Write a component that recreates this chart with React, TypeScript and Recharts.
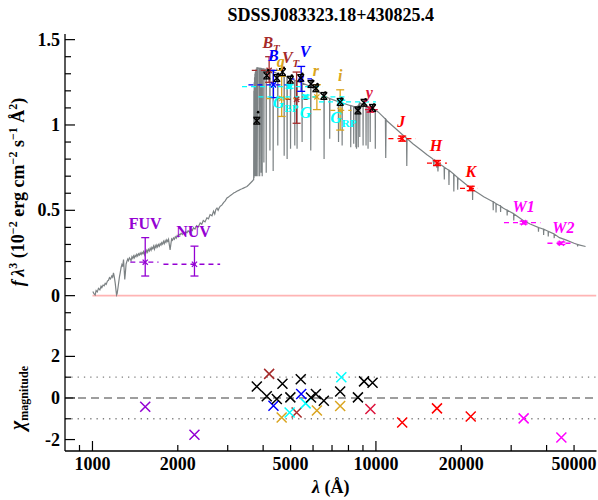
import React from 'react';
import { ComposedChart, Line, Scatter, XAxis, YAxis, ErrorBar, ReferenceLine } from 'recharts';

const FONT = '"Liberation Serif", "Times New Roman", Times, serif';
const W = 598;
const H = 500;
const TOP = 34;
const SPLIT = 346;
const BOTTOM = 451;

// ---------- data ----------
const spectrumPoints: [number, number][] = [
  [1003,0.024],[1012,0.012],[1022,0.004],[1030,0.03],[1040,0.022],[1050,0.043],[1062,0.034],[1072,0.055],[1079,0.047],[1090,0.062],
  [1100,0.058],[1109,0.072],[1118,0.066],[1129,0.085],[1139,0.09],[1148,0.105],[1158,0.098],[1170,0.115],[1178,0.108],[1186,0.133],
  [1194,0.11],[1203,0.073],[1210,0.035],[1216,0.004],[1222,0.012],[1230,0.045],[1238,0.08],[1245,0.11],[1253,0.135],[1262,0.165],
  [1270,0.182],[1278,0.17],[1287,0.212],[1294,0.15],[1300,0.095],[1306,0.13],[1314,0.185],[1322,0.2],[1332,0.214],[1340,0.205],
  [1350,0.222],[1359,0.215],[1368,0.205],[1378,0.228],[1388,0.218],[1396,0.232],[1405,0.222],[1414,0.236],[1424,0.228],[1434,0.242],
  [1444,0.232],[1455,0.245],[1465,0.238],[1474,0.25],[1485,0.241],[1495,0.253],[1505,0.246],[1514,0.258],[1525,0.24],[1535,0.26],
  [1545,0.252],[1555,0.266],[1565,0.255],[1575,0.272],[1588,0.262],[1598,0.278],[1610,0.266],[1620,0.282],[1632,0.274],[1642,0.29],
  [1655,0.272],[1665,0.293],[1676,0.283],[1687,0.297],[1698,0.286],[1710,0.3],[1722,0.29],[1733,0.305],[1745,0.297],[1755,0.31],
  [1768,0.302],[1780,0.318],[1792,0.305],[1805,0.322],[1817,0.312],[1829,0.327],[1842,0.318],[1855,0.33],[1866,0.3],[1879,0.268],
  [1890,0.3],[1902,0.332],[1916,0.325],[1930,0.338],[1945,0.33],[1960,0.345],[1975,0.337],[1990,0.352],[2005,0.345],[2020,0.36],
  [2037,0.356],[2055,0.366],[2075,0.358],[2095,0.37],[2115,0.362],[2135,0.375],[2155,0.368],[2175,0.38],[2200,0.372],[2225,0.388],
  [2250,0.382],[2272,0.398],[2300,0.39],[2330,0.41],[2360,0.402],[2399,0.426],[2430,0.418],[2460,0.44],[2495,0.432],[2533,0.456],
  [2565,0.45],[2600,0.475],[2640,0.468],[2674,0.495],[2700,0.478],[2725,0.505],[2749,0.513],[2775,0.5],[2800,0.515],[2824,0.524],
  [2860,0.53],[2900,0.545],[2940,0.555],[2982,0.572],[3020,0.578],[3060,0.586],[3100,0.592],[3148,0.601],[3190,0.606],[3230,0.612],
  [3280,0.617],[3323,0.622],[3370,0.626],[3410,0.63],[3460,0.635],[3508,0.64],[3560,0.65],[3610,0.66],[3660,0.67],[3700,0.68],
  [3704,0.68],[3710,1.2],[3714,0.69],[3720,1.25],[3724,0.7],[3731,1.28],[3735,0.7],[3742,1.3],[3746,0.7],[3754,1.31],
  [3758,0.7],[3766,1.32],[3771,0.71],[3780,1.33],[3790,0.7],[3800,1.335],[3830,1.335],[3835,0.7],[3840,1.335],[3884,1.333],
  [3889,0.7],[3894,1.333],[3929,1.332],[3934,0.72],[3939,1.332],[3964,1.33],[3970,0.7],[3976,1.33],[4020,1.328],[4025,0.78],
  [4030,1.328],[4096,1.325],[4102,0.72],[4108,1.325],[4220,1.32],[4227,0.85],[4234,1.32],[4333,1.312],[4340,0.73],[4347,1.312],
  [4400,1.308],[4500,1.3],[4506,0.88],[4512,1.3],[4740,1.288],[4746,0.82],[4752,1.288],[4853,1.282],[4861,0.8],[4869,1.281],
  [4990,1.272],[4998,0.86],[5006,1.271],[5165,1.262],[5173,0.88],[5181,1.262],[5262,1.257],[5270,0.86],[5278,1.256],[5480,1.246],
  [5490,0.9],[5500,1.245],[5800,1.23],[5880,1.225],[5890,0.85],[5900,1.224],[6000,1.215],[6300,1.192],[6553,1.172],[6563,0.8],
  [6573,1.171],[6860,1.155],[6870,0.92],[6880,1.155],[7000,1.15],[7370,1.136],[7380,0.9],[7390,1.136],[7500,1.132],[7590,1.129],
  [7600,0.88],[7610,1.129],[8000,1.117],[8140,1.113],[8150,0.87],[8160,1.113],[8340,1.108],[8350,0.89],[8360,1.108],[8488,1.106],
  [8498,0.87],[8508,1.106],[8532,1.107],[8542,0.86],[8552,1.107],[8652,1.112],[8662,0.87],[8672,1.113],[8760,1.13],[8770,0.93],
  [8780,1.13],[9000,1.12],[9010,0.88],[9020,1.12],[9220,1.112],[9230,0.88],[9240,1.111],[9370,1.105],[9380,0.86],[9390,1.105],
  [9536,1.1],[9546,0.9],[9556,1.1],[9940,1.087],[9950,0.86],[9960,1.087],[10200,1.075],[10500,1.055],[10800,1.035],[10830,0.806],
  [10860,1.032],[11000,1.02],[12000,0.965],[12820,0.922],[12850,0.76],[12880,0.92],[13500,0.89],[14500,0.85],[15140,0.825],[15900,0.8],
  [16000,0.765],[16100,0.796],[16300,0.789],[16400,0.75],[16500,0.78],[16550,0.727],[16600,0.776],[17300,0.757],[17400,0.753],[17430,0.68],
  [17460,0.752],[18070,0.735],[18100,0.649],[18130,0.734],[18800,0.712],[18830,0.61],[18860,0.711],[19400,0.692],[19430,0.62],[19460,0.691],
  [20500,0.66],[21500,0.632],[21900,0.622],[21930,0.56],[21960,0.621],[23000,0.6],[24000,0.58],[25900,0.55],[25930,0.5],[25960,0.55],
  [26500,0.54],[26530,0.487],[26560,0.539],[27500,0.525],[27530,0.49],[27560,0.524],[28000,0.515],[29000,0.5],[29040,0.47],[29080,0.5],
  [30600,0.48],[30640,0.44],[30680,0.479],[33100,0.44],[35000,0.42],[37400,0.4],[37450,0.375],[37500,0.399],[39000,0.39],[39050,0.356],
  [39100,0.389],[40500,0.377],[40550,0.346],[40600,0.376],[42500,0.362],[42550,0.337],[42600,0.361],[44400,0.34],[47000,0.325],[50000,0.307],
  [51400,0.3],[51450,0.288],[51500,0.299],[54900,0.288],
];

const zeroLineWave = [1000, 60000];

const bandNames = ['FUV','NUV','B_T','V_T','B','V','g','r','i','y','G_BP','G','G_RP','J','H','K','W1','W2'];
const bandWave = [1535,2290,4200,5250,4350,5450,4650,6190,7480,9560,4960,5650,7550,12380,16420,21600,33200,45100];
const bandFlux = [0.196,0.184,1.32,1.15,1.235,1.27,1.155,1.164,1.085,1.09,1.225,1.165,1.135,0.92,0.777,0.628,0.428,0.307];
const bandFluxLow = [0.115,0.115,1.25,1.01,1.16,1.197,1.05,1.09,0.97,1.075,1.215,1.155,1.125,0.905,0.762,0.615,0.42,0.3];
const bandFluxHigh = [0.34,0.29,1.4,1.31,1.32,1.343,1.285,1.236,1.206,1.105,1.235,1.175,1.145,0.935,0.792,0.641,0.436,0.314];
const bandWaveLow = [1360,1780,3650,4800,3550,4950,4100,5550,6900,9150,3370,3850,6300,11070,15140,19800,28300,40300];
const bandWaveHigh = [1710,2820,4700,5750,5000,5950,5400,6750,8200,10150,6500,8000,10000,13790,17800,22750,38000,50000];
const bandChi = [-0.42,-1.77,1.16,-0.7,-0.37,0.19,-0.94,-0.6,-0.39,-0.53,-0.7,-0.26,1.0,-1.18,-0.5,-0.89,-0.98,-1.9];

const synWave = [3800,4120,4470,4680,4990,5430,5900,6140,6550,7480,8640,9080,9730];
const synFlux = [1.025,1.29,1.275,1.31,1.265,1.275,1.24,1.215,1.17,1.135,1.085,1.13,1.1];
const synErr = [0.02,0.02,0.02,0.02,0.02,0.02,0.02,0.02,0.02,0.02,0.02,0.02,0.02];
const synChi = [0.55,0.08,-0.05,0.68,0.03,0.9,0.02,0.19,-0.13,0.31,0.03,0.8,0.73];
const modelWave = [3840,4170,4520,4730,5050,5500,5970,6220,6630,7570,8740,9190,9850];
const modelFlux = [1.075,1.32,1.3,1.335,1.29,1.3,1.26,1.24,1.19,1.155,1.105,1.15,1.12];

const xTicks = [900,1000,2000,3000,4000,5000,6000,7000,8000,9000,10000,20000,30000,40000,50000];
const xTickLabels = [1000,2000,5000,10000,20000,50000];
const xMajorTicks = [1000,10000];
const fluxTicks = [-0.2,-0.1,0,0.1,0.2,0.3,0.4,0.5,0.6,0.7,0.8,0.9,1,1.1,1.2,1.3,1.4,1.5];
const fluxTickLabels = [0,0.5,1,1.5];
const chiTicks = [-2,-1,0,1,2];
const chiTickLabels = [-2,0,2];

const X_DOMAIN: [number, number] = [800, 60000];
const FLUX_DOMAIN: [number, number] = [-0.295, 1.533];
const CHI_DOMAIN: [number, number] = [-2.55, 2.5];

// ---------- styles ----------
const PURPLE = '#9400D3';
const BROWN = '#A52A2A';
const BLUE = '#0000FF';
const GOLD = '#DAA520';
const CRIMSON = '#DC143C';
const CYAN = '#00FFFF';
const RED = '#FF0000';
const MAGENTA = '#FF00FF';

type BandStyle = { color: string; text: string; sub?: string; italic: boolean; subItalic?: boolean; dx: number; below?: boolean };
const bandStyle: Record<string, BandStyle> = {
  FUV: { color: PURPLE, text: 'FUV', italic: false, dx: 0 },
  NUV: { color: PURPLE, text: 'NUV', italic: false, dx: -1 },
  B_T: { color: BROWN, text: 'B', sub: 'T', italic: true, subItalic: true, dx: 2 },
  V_T: { color: BROWN, text: 'V', sub: 'T', italic: true, subItalic: true, dx: -6 },
  B: { color: BLUE, text: 'B', italic: true, dx: 0 },
  V: { color: BLUE, text: 'V', italic: true, dx: 4 },
  g: { color: GOLD, text: 'g', italic: true, dx: -1 },
  r: { color: GOLD, text: 'r', italic: true, dx: -1 },
  i: { color: GOLD, text: 'i', italic: true, dx: 0 },
  y: { color: CRIMSON, text: 'y', italic: true, dx: -1 },
  G_BP: { color: CYAN, text: 'G', sub: 'BP', italic: true, subItalic: false, dx: -4, below: true },
  G: { color: CYAN, text: 'G', italic: true, dx: 0, below: true },
  G_RP: { color: CYAN, text: 'G', sub: 'RP', italic: true, subItalic: false, dx: 2, below: true },
  J: { color: RED, text: 'J', italic: true, dx: -1 },
  H: { color: RED, text: 'H', italic: true, dx: -1 },
  K: { color: RED, text: 'K', italic: true, dx: 0 },
  W1: { color: MAGENTA, text: 'W1', italic: true, dx: 0 },
  W2: { color: MAGENTA, text: 'W2', italic: true, dx: 2 },
};

// ---------- derived tables ----------
const specData = spectrumPoints.map(([x, y]) => ({ x, y }));
const zeroData = zeroLineWave.map((x) => ({ x, y: 0 }));
const bandData = bandNames.map((band, k) => ({
  band,
  x: bandWave[k],
  y: bandFlux[k],
  ey: [bandFlux[k] - bandFluxLow[k], bandFluxHigh[k] - bandFlux[k]],
  ex: [bandWave[k] - bandWaveLow[k], bandWaveHigh[k] - bandWave[k]],
}));
const labelData = bandNames.map((band, k) => ({
  band,
  x: bandWave[k],
  y: bandStyle[band].below ? bandFlux[k] : bandFluxHigh[k],
}));
const synData = synWave.map((x, k) => ({ x, y: synFlux[k], ey: synErr[k] }));
const modelData = modelWave.map((x, k) => ({ x, y: modelFlux[k] }));
const bandChiData = bandNames.map((band, k) => ({ band, x: bandWave[k], y: bandChi[k] }));
const synChiData = synWave.map((x, k) => ({ x, y: synChi[k] }));

// ---------- drawing helpers ----------
const AXIS = { stroke: '#000', strokeWidth: 1.3 };

const makeXTick = (dir: number, labels: boolean) => (props: any) => {
  const { x, y, payload } = props;
  const v = payload.value;
  const len = xMajorTicks.includes(v) ? 10 : 6;
  return (
    <g>
      <line x1={x} y1={y} x2={x} y2={y + dir * len} stroke="#000" strokeWidth={1.2} />
      {labels && xTickLabels.includes(v) ? (
        <text x={x} y={y + 18.5} textAnchor="middle" fontFamily={FONT} fontWeight="bold" fontSize={18} fill="#000">
          {String(v)}
        </text>
      ) : null}
    </g>
  );
};

const makeYTick = (dir: number, labelList: number[], majors: number[]) => (props: any) => {
  const { x, y, payload } = props;
  const v = payload.value;
  const len = majors.includes(v) ? 10 : 6;
  return (
    <g>
      <line x1={x} y1={y} x2={x + dir * len} y2={y} stroke="#000" strokeWidth={1.2} />
      {labelList.includes(v) ? (
        <text x={x - 5} y={y + 6} textAnchor="end" fontFamily={FONT} fontWeight="bold" fontSize={18} fill="#000">
          {String(v)}
        </text>
      ) : null}
    </g>
  );
};

const crossShape = (color: string, half: number, sw: number) => (props: any) => {
  const { cx, cy } = props;
  if (cx == null || cy == null) return <g />;
  return (
    <path
      d={`M${cx - half},${cy - half}L${cx + half},${cy + half}M${cx - half},${cy + half}L${cx + half},${cy - half}`}
      stroke={color}
      strokeWidth={sw}
      fill="none"
    />
  );
};

const dotShape = (props: any) => {
  const { cx, cy } = props;
  if (cx == null || cy == null) return <g />;
  return <circle cx={cx} cy={cy} r={1.3} fill="#000" />;
};

const labelShape = (props: any) => {
  const { cx, cy, payload } = props;
  if (cx == null || cy == null) return <g />;
  const st = bandStyle[payload.band];
  const ty = st.below ? cy + 21 : cy - 9;
  return (
    <text
      x={cx + st.dx}
      y={ty}
      textAnchor="middle"
      fill={st.color}
      fontFamily={FONT}
      fontWeight="bold"
      fontSize={16}
      fontStyle={st.italic ? 'italic' : 'normal'}
    >
      {st.text}
      {st.sub ? (
        <tspan dy={4} fontSize={11} fontStyle={st.subItalic ? 'italic' : 'normal'}>
          {st.sub}
        </tspan>
      ) : null}
    </text>
  );
};

const FluxLabel = () => (
  <text
    transform="translate(24,192) rotate(-90)"
    textAnchor="middle"
    fontFamily={FONT}
    fontWeight="bold"
    fontSize={18}
    fill="#000"
  >
    <tspan fontStyle="italic">{'f\u2009λ'}</tspan>
    <tspan dy={-7} fontSize={12}>3</tspan>
    <tspan dy={7}>{' (10'}</tspan>
    <tspan dy={-7} fontSize={12}>{'\u22122'}</tspan>
    <tspan dy={7}>{' erg cm'}</tspan>
    <tspan dy={-7} fontSize={12}>{'\u22122'}</tspan>
    <tspan dy={7}>{' s'}</tspan>
    <tspan dy={-7} fontSize={12}>{'\u22121'}</tspan>
    <tspan dy={7}>{' Å'}</tspan>
    <tspan dy={-7} fontSize={12}>2</tspan>
    <tspan dy={7}>)</tspan>
  </text>
);

const ChiLabel = () => (
  <text
    transform="translate(24,398) rotate(-90)"
    textAnchor="middle"
    fontFamily={FONT}
    fontWeight="bold"
    fill="#000"
  >
    <tspan fontStyle="italic" fontSize={20}>χ</tspan>
    <tspan dy={4} fontSize={12}>magnitude</tspan>
  </text>
);

const XTitle = () => (
  <text x={330.75} y={493} textAnchor="middle" fontFamily={FONT} fontWeight="bold" fontSize={18} fill="#000">
    <tspan fontStyle="italic">λ</tspan>
    <tspan>{' (Å)'}</tspan>
  </text>
);

const xAxisCommon = {
  dataKey: 'x',
  type: 'number' as const,
  scale: 'log' as const,
  domain: X_DOMAIN,
  allowDataOverflow: true,
  ticks: xTicks,
  interval: 0 as const,
  tickSize: 0,
  tickMargin: 0,
  tickLine: false,
  axisLine: AXIS,
};

export default function App() {
  return (
    <div style={{ position: 'absolute', left: 0, top: 0, width: W, height: H, background: '#fff' }}>
      <div
        style={{
          position: 'absolute',
          left: 65,
          width: 531.5,
          top: 4,
          textAlign: 'center',
          fontFamily: FONT,
          fontWeight: 'bold',
          fontSize: 18,
          lineHeight: '22px',
          color: '#000',
        }}
      >
        SDSSJ083323.18+430825.4
      </div>

      {/* top panel */}
      <div style={{ position: 'absolute', left: 0, top: 0 }}>
        <ComposedChart width={W} height={H} margin={{ top: TOP, right: 1.5, bottom: H - SPLIT, left: 0 }}>
          <XAxis xAxisId="b" orientation="bottom" height={0} tick={makeXTick(-1, false)} {...xAxisCommon} />
          <XAxis xAxisId="t" orientation="top" height={0} tick={makeXTick(1, false)} {...xAxisCommon} />
          <YAxis
            yAxisId="l"
            orientation="left"
            dataKey="y"
            type="number"
            domain={FLUX_DOMAIN}
            allowDataOverflow
            ticks={fluxTicks}
            interval={0}
            width={65}
            tickSize={0}
            tickMargin={0}
            tickLine={false}
            axisLine={AXIS}
            tick={makeYTick(1, fluxTickLabels, fluxTickLabels)}
            label={<FluxLabel />}
          />
          <YAxis
            yAxisId="r"
            orientation="right"
            dataKey="y"
            type="number"
            domain={FLUX_DOMAIN}
            allowDataOverflow
            ticks={fluxTicks}
            interval={0}
            width={0}
            tickSize={0}
            tickMargin={0}
            tickLine={false}
            axisLine={AXIS}
            tick={makeYTick(-1, [], fluxTickLabels)}
          />
          <Line
            xAxisId="b"
            yAxisId="l"
            data={zeroData}
            dataKey="y"
            stroke="#ffb4b4"
            strokeWidth={1.6}
            dot={false}
            isAnimationActive={false}
          />
          <Line
            xAxisId="b"
            yAxisId="l"
            data={specData}
            dataKey="y"
            type="linear"
            stroke="#7c8284"
            strokeWidth={1.2}
            dot={false}
            isAnimationActive={false}
          />
          {bandData.map((d) => {
            const color = bandStyle[d.band].color;
            return (
              <Scatter
                key={d.band}
                xAxisId="b"
                yAxisId="l"
                data={[d]}
                dataKey="y"
                shape={crossShape(color, 2.6, 1.3)}
                isAnimationActive={false}
              >
                <ErrorBar dataKey="ex" direction="x" width={0} stroke={color} strokeWidth={1.3} strokeDasharray="5 4" isAnimationActive={false} />
                <ErrorBar dataKey="ey" direction="y" width={4} stroke={color} strokeWidth={1.3} isAnimationActive={false} />
              </Scatter>
            );
          })}
          <Scatter xAxisId="b" yAxisId="l" data={synData} dataKey="y" shape={crossShape('#000', 3, 1.4)} isAnimationActive={false}>
            <ErrorBar dataKey="ey" direction="y" width={3.5} stroke="#000" strokeWidth={1.3} isAnimationActive={false} />
          </Scatter>
          <Scatter xAxisId="b" yAxisId="l" data={modelData} dataKey="y" shape={dotShape} isAnimationActive={false} />
          <Scatter xAxisId="b" yAxisId="l" data={labelData} dataKey="y" shape={labelShape} isAnimationActive={false} />
        </ComposedChart>
      </div>

      {/* residual panel */}
      <div style={{ position: 'absolute', left: 0, top: 0 }}>
        <ComposedChart width={W} height={H} margin={{ top: SPLIT, right: 1.5, bottom: 0, left: 0 }}>
          <XAxis xAxisId="b" orientation="bottom" height={H - BOTTOM} tick={makeXTick(-1, true)} label={<XTitle />} {...xAxisCommon} />
          <XAxis xAxisId="t" orientation="top" height={0} tick={makeXTick(1, false)} {...xAxisCommon} />
          <YAxis
            yAxisId="l"
            orientation="left"
            dataKey="y"
            type="number"
            domain={CHI_DOMAIN}
            allowDataOverflow
            ticks={chiTicks}
            interval={0}
            width={65}
            tickSize={0}
            tickMargin={0}
            tickLine={false}
            axisLine={AXIS}
            tick={makeYTick(1, chiTickLabels, chiTickLabels)}
            label={<ChiLabel />}
          />
          <YAxis
            yAxisId="r"
            orientation="right"
            dataKey="y"
            type="number"
            domain={CHI_DOMAIN}
            allowDataOverflow
            ticks={chiTicks}
            interval={0}
            width={0}
            tickSize={0}
            tickMargin={0}
            tickLine={false}
            axisLine={AXIS}
            tick={makeYTick(-1, [], [0])}
          />
          <ReferenceLine xAxisId="b" yAxisId="l" y={0} stroke="#7f7f7f" strokeWidth={1.3} strokeDasharray="8 5" />
          <ReferenceLine xAxisId="b" yAxisId="l" y={1} stroke="#7f7f7f" strokeWidth={1.3} strokeDasharray="1.3 5" />
          <ReferenceLine xAxisId="b" yAxisId="l" y={-1} stroke="#7f7f7f" strokeWidth={1.3} strokeDasharray="1.3 5" />
          {bandChiData.map((d) => (
            <Scatter
              key={d.band}
              xAxisId="b"
              yAxisId="l"
              data={[d]}
              dataKey="y"
              shape={crossShape(bandStyle[d.band].color, 5, 1.5)}
              isAnimationActive={false}
            />
          ))}
          <Scatter xAxisId="b" yAxisId="l" data={synChiData} dataKey="y" shape={crossShape('#000', 5, 1.5)} isAnimationActive={false} />
        </ComposedChart>
      </div>
    </div>
  );
}
